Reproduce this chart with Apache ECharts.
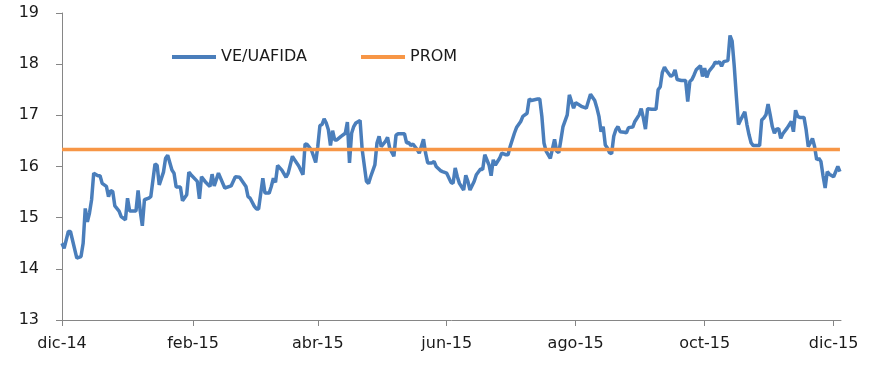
<!DOCTYPE html>
<html>
<head>
<meta charset="utf-8">
<script src="https://cdn.jsdelivr.net/npm/echarts@6/dist/echarts.min.js"></script>
<style>html,body{margin:0;padding:0;background:#fff;}#c{width:879px;height:379px;}</style>
</head>
<body>
<div id="c"></div>
<script>
// Data: day offsets from 2014-12-01 and VE/UAFIDA values
const startDate = '2014-12-01';
const endDate = '2015-12-04';
const dayOffsets = [0,1,3,4,7,9,10,11,12,13,14,15,17,18,19,21,22,23,24,25,27,28,30,31,32,34,35,36,37,38,39,41,42,44,45,46,48,49,50,52,53,54,56,57,59,60,61,64,65,66,68,69,70,71,72,74,77,80,82,84,87,88,89,91,92,93,95,96,98,99,100,101,102,104,106,107,109,110,112,
114,115,116,118,119,120,121,122,123,124,125,126,127,128,129,130,132,134,135,136,137,138,139,141,142,144,145,146,148,149,150,151,153,154,155,157,158,159,162,163,164,165,166,168,169,171,172,173,175,176,177,179,180,182,184,185,186,187,188,190,191,192,193,195,196,198,199,200,202,203,204,205,207,208,210,211,212,214,215,217,218,220,221,222,225,226,227,228,229,231,233,234,235,236,237,239,240,
242,243,244,246,248,250,252,253,254,255,256,257,258,259,260,261,262,263,264,266,267,268,270,271,273,274,275,276,277,279,281,282,283,284,285,286,288,289,290,291,293,295,296,297,298,299,300,302,303,304,305,306,308,309,310,311,312,313,315,316,317,318,319,320,321,322,323,324,325,326,327,329,330,331,332,333,334,335,336,337,338,339,340,341,343,345,346,347,348,349,351,352,353,354,355,356,357,358,359,360,361,362,363,365,367,368];
const veUafida = [14.50,14.40,14.73,14.73,14.21,14.24,14.50,15.18,14.92,15.09,15.35,15.87,15.82,15.82,15.67,15.61,15.41,15.53,15.51,15.23,15.13,15.02,14.96,15.38,15.13,15.13,15.13,15.53,15.13,14.84,15.35,15.38,15.41,16.05,16.02,15.64,15.89,16.16,16.22,15.93,15.87,15.60,15.60,15.33,15.45,15.89,15.84,15.71,15.37,15.80,15.69,15.65,15.61,15.85,15.62,15.87,15.58,15.62,15.80,15.79,15.61,15.41,15.38,15.22,15.17,15.17,15.77,15.48,15.48,15.61,15.77,15.69,16.02,15.93,15.79,15.87,16.20,16.13,16.01,
15.84,16.44,16.43,16.32,16.20,16.08,16.39,16.80,16.82,16.93,16.85,16.72,16.41,16.70,16.52,16.52,16.59,16.65,16.87,16.07,16.65,16.78,16.85,16.90,16.33,15.71,15.67,15.80,16.03,16.46,16.59,16.39,16.49,16.57,16.36,16.20,16.61,16.64,16.64,16.46,16.47,16.41,16.44,16.33,16.26,16.53,16.26,16.07,16.07,16.10,16.00,15.92,15.90,15.87,15.69,15.67,15.97,15.80,15.67,15.54,15.83,15.71,15.54,15.71,15.84,15.95,15.94,16.23,16.03,15.82,16.13,16.03,16.16,16.26,16.23,16.23,16.39,16.65,16.76,16.88,16.98,17.04,17.32,17.29,17.32,17.32,16.98,16.46,16.30,16.16,16.53,16.30,16.27,16.52,16.78,17.01,17.40,
17.14,17.25,17.22,17.17,17.14,17.41,17.29,17.15,16.98,16.68,16.78,16.42,16.36,16.27,16.25,16.59,16.72,16.78,16.68,16.67,16.66,16.76,16.77,16.88,17.01,17.13,16.95,16.73,17.13,17.12,17.12,17.50,17.56,17.84,17.94,17.87,17.76,17.79,17.89,17.70,17.68,17.68,17.27,17.66,17.70,17.79,17.89,17.97,17.76,17.92,17.74,17.86,17.96,18.04,18.02,18.05,17.96,18.05,18.07,18.56,18.45,17.96,17.37,16.82,16.91,16.99,17.07,16.82,16.62,16.46,16.41,16.41,16.41,16.91,16.95,17.01,17.22,17.01,16.78,16.65,16.73,16.74,16.55,16.64,16.75,16.88,16.68,17.10,16.98,16.96,16.96,16.72,16.39,16.46,16.55,16.39,16.13,16.16,16.10,15.82,15.58,15.90,15.85,15.80,16.00,15.90];
const promValue = 16.33;
const tickDates = ['2014-12-01','2015-02-01','2015-04-01','2015-06-01','2015-08-01','2015-10-01','2015-12-01'];
const tickLabels = ['dic-14','feb-15','abr-15','jun-15','ago-15','oct-15','dic-15'];
const yTicks = [13,14,15,16,17,18,19];

function parseDay(s){const p=s.split('-').map(Number);return Date.UTC(p[0],p[1]-1,p[2]);}
const DAY = 86400000;
const t0 = parseDay(startDate);
const seriesData = dayOffsets.map((d,i)=>[t0 + d*DAY, veUafida[i]]);
const lastT = t0 + dayOffsets[dayOffsets.length-1]*DAY;
const promData = [[t0, promValue],[lastT, promValue]];
const tickTs = tickDates.map(parseDay);

const font = 'DejaVu Sans';
const axisColor = '#868686';
const chart = echarts.init(document.getElementById('c'), null, {renderer:'canvas'});
chart.setOption({
  animation:false,
  backgroundColor:'#ffffff',
  grid:{left:62, right:38, top:13, bottom:59, containLabel:false},
  legend:{
    left:167, top:44, itemWidth:44, itemHeight:4, itemGap:54, icon:'rect',
    textStyle:{fontFamily:font, fontSize:16, color:'#1a1a1a'},
    data:['VE/UAFIDA','PROM']
  },
  xAxis:{
    type:'value',
    min:t0,
    max:parseDay(endDate)+DAY/2,
    axisLine:{lineStyle:{color:axisColor,width:1}},
    axisTick:{show:true,length:6,lineStyle:{color:axisColor},customValues:tickTs},
    splitLine:{show:false},
    axisLabel:{
      customValues:tickTs,
      margin:16,
      fontFamily:font, fontSize:16, color:'#1a1a1a',
      formatter:function(v){const i=tickTs.indexOf(v);return i>=0?tickLabels[i]:'';}
    }
  },
  yAxis:{
    type:'value',
    min:yTicks[0], max:yTicks[yTicks.length-1], interval:1,
    axisLine:{show:true,lineStyle:{color:axisColor,width:1}},
    axisTick:{show:true,length:6,lineStyle:{color:axisColor}},
    splitLine:{show:false},
    axisLabel:{margin:23, fontFamily:font, fontSize:16, color:'#1a1a1a'}
  },
  series:[
    {name:'VE/UAFIDA', type:'line', data:seriesData, showSymbol:false, symbol:'none',
     lineStyle:{color:'#4a7ebb', width:3.5}, itemStyle:{color:'#4a7ebb'}, z:2},
    {name:'PROM', type:'line', data:promData, showSymbol:false, symbol:'none',
     lineStyle:{color:'#f79646', width:3.5}, itemStyle:{color:'#f79646'}, z:3}
  ]
});
</script>
</body>
</html>
